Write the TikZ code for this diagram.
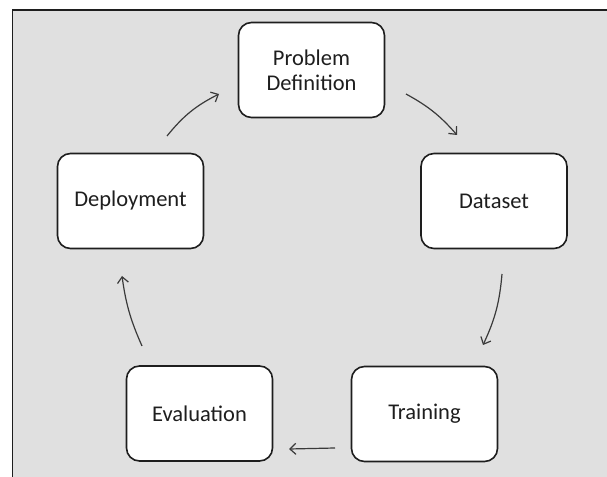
\documentclass[tikz,border=0pt]{standalone}
\usepackage{fontspec}
\setmainfont{Carlito}
\usetikzlibrary{arrows.meta,calc}
\definecolor{bggrey}{HTML}{E0E0E0}
\definecolor{ink}{HTML}{1E1E1E}
\definecolor{arrowink}{HTML}{3A3A3A}
\begin{document}
\begin{tikzpicture}[x=1pt,y=1pt,
  stagebox/.style={draw=ink, line width=1.6pt, fill=white, rounded corners=13pt,
    minimum width=146pt, minimum height=95pt, inner sep=0pt, align=center,
    text=ink, font=\fontsize{22.5}{25}\selectfont},
  flow/.style={draw=arrowink, line width=1.2pt,
    -{Straight Barb[length=6pt,width=11pt,line width=1.2pt]}}]
\useasboundingbox (0,0) rectangle (607,476);
\clip (0,0) rectangle (607,476);
\fill[white] (0,0) rectangle (607,476);
\draw[draw=ink, line width=1.3pt, fill=bggrey] (12.5,-10) rectangle (620,466);

\node[stagebox] (prob)  at (311.5,406) {Problem\\Definition};
\node[stagebox] (dep)   at (130.5,275) {Deployment};
\node[stagebox] (data)  at (494,275)   {Dataset};
\node[stagebox] (eval)  at (199.5,62.5) {Evaluation};
\node[stagebox] (train) at (424.5,62)  {Training};

\draw[flow] ($(dep)+(36.5,65)$) to[bend left=12] ($(prob)+(-92.5,-24)$);
\draw[flow] ($(prob)+(94.5,-24)$) to[bend left=10] ($(data)+(-37,66)$);
\draw[flow] ($(data)+(8,-73)$) to[bend left=10] ($(train)+(58.5,69)$);
\draw[flow] ($(train)+(-89.5,-34)$) -- ($(eval)+(89.5,-35.5)$);
\draw[flow] ($(eval)+(-57.5,67.5)$) to[bend left=8] ($(dep)+(-8.5,-75)$);
\end{tikzpicture}
\end{document}
